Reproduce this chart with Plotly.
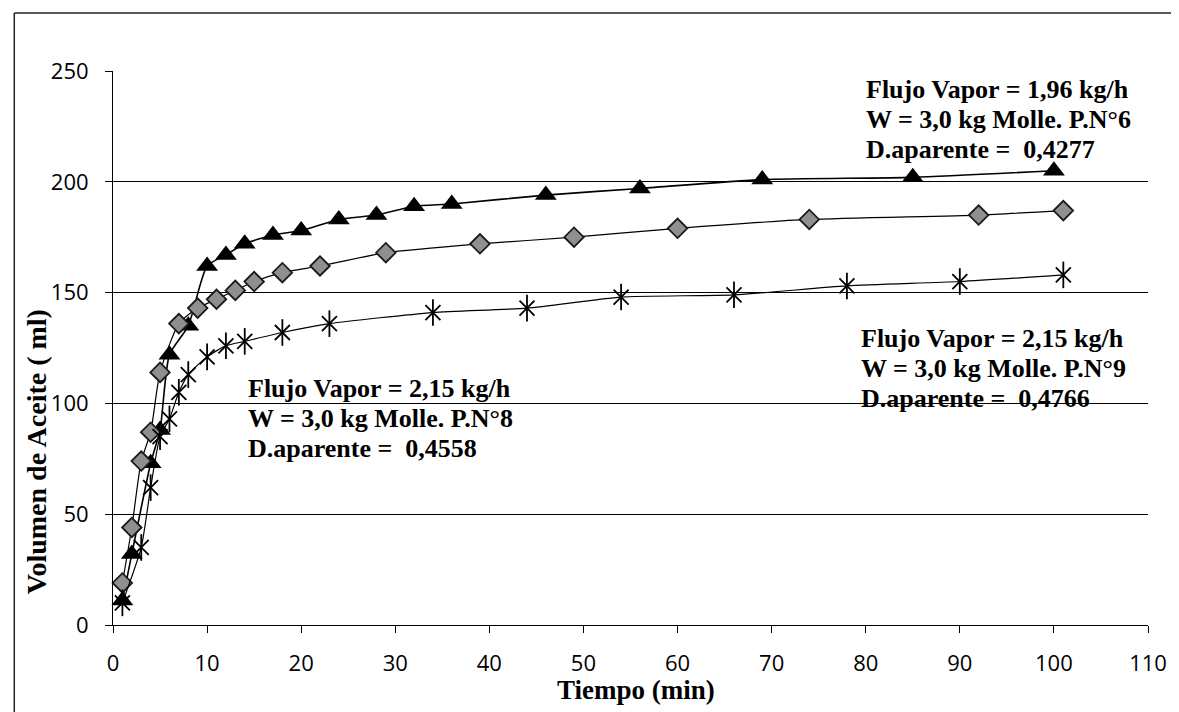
import plotly.graph_objects as go

# ---- data ----
tri_x = [1, 2, 4, 5, 6, 8, 10, 12, 14, 17, 20, 24, 28, 32, 36, 46, 56, 69, 85, 100]
tri_y = [11, 32, 73, 88, 122, 135, 162, 167, 172, 176, 178, 183, 185, 189, 190, 194, 197, 201, 202, 205]

dia_x = [1, 2, 3, 4, 5, 7, 9, 11, 13, 15, 18, 22, 29, 39, 49, 60, 74, 92, 101]
dia_y = [19, 44, 74, 87, 114, 136, 143, 147, 151, 155, 159, 162, 168, 172, 175, 179, 183, 185, 187]

star_x = [1, 3, 4, 5, 6, 7, 8, 10, 12, 14, 18, 23, 34, 44, 54, 66, 78, 90, 101]
star_y = [10, 35, 62, 85, 93, 105, 113, 121, 126, 128, 132, 136, 141, 143, 148, 149, 153, 155, 158]

x_ticks = [0, 10, 20, 30, 40, 50, 60, 70, 80, 90, 100, 110]
y_ticks = [0, 50, 100, 150, 200, 250]

label_top = ["Flujo Vapor = 1,96 kg/h", "W = 3,0 kg Molle. P.N°6", "D.aparente =\u00a0 0,4277"]
label_right = ["Flujo Vapor = 2,15 kg/h", "W = 3,0 kg Molle. P.N°9", "D.aparente =\u00a0 0,4766"]
label_mid = ["Flujo Vapor = 2,15 kg/h", "W = 3,0 kg Molle. P.N°8", "D.aparente =\u00a0 0,4558"]

x_title = "Tiempo (min)"
y_title = "Volumen de Aceite ( ml)"

# ---- layout geometry (reference pixel coords; page body has an 8px margin) ----
OFF = 8
W, H = 1179 - OFF, 712 - OFF
L, R, T, B = 113 - OFF, 1151 - OFF, 71 - OFF, 625 - OFF


def px(xp):
    return (xp - OFF - L) / (R - L)


def py(yp):
    return (B - (yp - OFF)) / (B - T)


serif = "Liberation Serif, Times New Roman, serif"
sans = "Open Sans, Liberation Sans, sans-serif"

fig = go.Figure()

line_shape = dict(shape="spline", smoothing=0.6)

fig.add_trace(go.Scatter(
    x=tri_x, y=tri_y, mode="lines+markers",
    line=dict(color="black", width=1.6, **line_shape),
    marker=dict(symbol="triangle-up", size=19, color="black"),
    cliponaxis=False))

fig.add_trace(go.Scatter(
    x=dia_x, y=dia_y, mode="lines+markers",
    line=dict(color="black", width=1.2, **line_shape),
    marker=dict(symbol="diamond", size=15, color="#8f8f8f",
                line=dict(color="#1a1a1a", width=1.8)),
    cliponaxis=False))

fig.add_trace(go.Scatter(
    x=star_x, y=star_y, mode="lines+markers",
    line=dict(color="black", width=1.2, **line_shape),
    marker=dict(symbol="x-thin-open", size=15, color="black",
                line=dict(color="black", width=1.8)),
    cliponaxis=False))
fig.add_trace(go.Scatter(
    x=star_x, y=star_y, mode="markers",
    marker=dict(symbol="line-ns-open", size=19, color="black",
                line=dict(color="black", width=1.8)),
    cliponaxis=False))

annotations = []


def add_block(lines, x_px, y_pxs):
    for t, yy in zip(lines, y_pxs):
        annotations.append(dict(
            text="<b>" + t + "</b>", x=px(x_px), y=py(yy), xref="paper", yref="paper",
            xanchor="left", yanchor="middle", showarrow=False,
            font=dict(family=serif, size=26, color="black")))


add_block(label_top, 866, [89, 119, 149])
add_block(label_right, 861, [338, 368, 398])
add_block(label_mid, 246, [388, 418, 448])

annotations.append(dict(
    text="<b>" + x_title + "</b>", x=px(638), y=py(690), xref="paper", yref="paper",
    xanchor="center", yanchor="middle", showarrow=False,
    font=dict(family=serif, size=27, color="black")))
annotations.append(dict(
    text="<b>" + y_title + "</b>", x=px(36), y=py(452), xref="paper", yref="paper",
    xanchor="center", yanchor="middle", showarrow=False, textangle=-90,
    font=dict(family=serif, size=28, color="black")))

shapes = [
    # white text box covering the top gridline
    dict(type="rect", xref="paper", yref="paper", x0=px(846), x1=px(1144),
         y0=py(160), y1=py(62), fillcolor="white", line=dict(width=0), layer="between"),
    # outer frame
    dict(type="line", xref="paper", yref="paper", x0=px(14), x1=px(1179),
         y0=py(13), y1=py(13), line=dict(color="#222222", width=1.5)),
    dict(type="line", xref="paper", yref="paper", x0=px(14), x1=px(14),
         y0=py(13), y1=py(712), line=dict(color="#222222", width=1.5)),
]

fig.update_layout(
    width=W, height=H,
    margin=dict(l=L, r=W - R, t=T, b=H - B, pad=0),
    paper_bgcolor="white", plot_bgcolor="white",
    showlegend=False,
    annotations=annotations,
    shapes=shapes,
    xaxis=dict(range=[0, 110], tickvals=x_ticks, ticks="outside", ticklen=7,
               tickcolor="black", tickwidth=1, showline=True, linecolor="black",
               linewidth=1, showgrid=False, zeroline=False,
               tickfont=dict(family=sans, size=22, color="black"),
               ticklabelstandoff=12),
    yaxis=dict(range=[0, 250], tickvals=y_ticks, ticks="outside", ticklen=7,
               tickcolor="black", tickwidth=1, showline=True, linecolor="black",
               linewidth=1, showgrid=True, gridcolor="black", gridwidth=1,
               zeroline=False,
               tickfont=dict(family=sans, size=22, color="black"),
               ticklabelstandoff=12),
)

fig.write_html("out.html")
